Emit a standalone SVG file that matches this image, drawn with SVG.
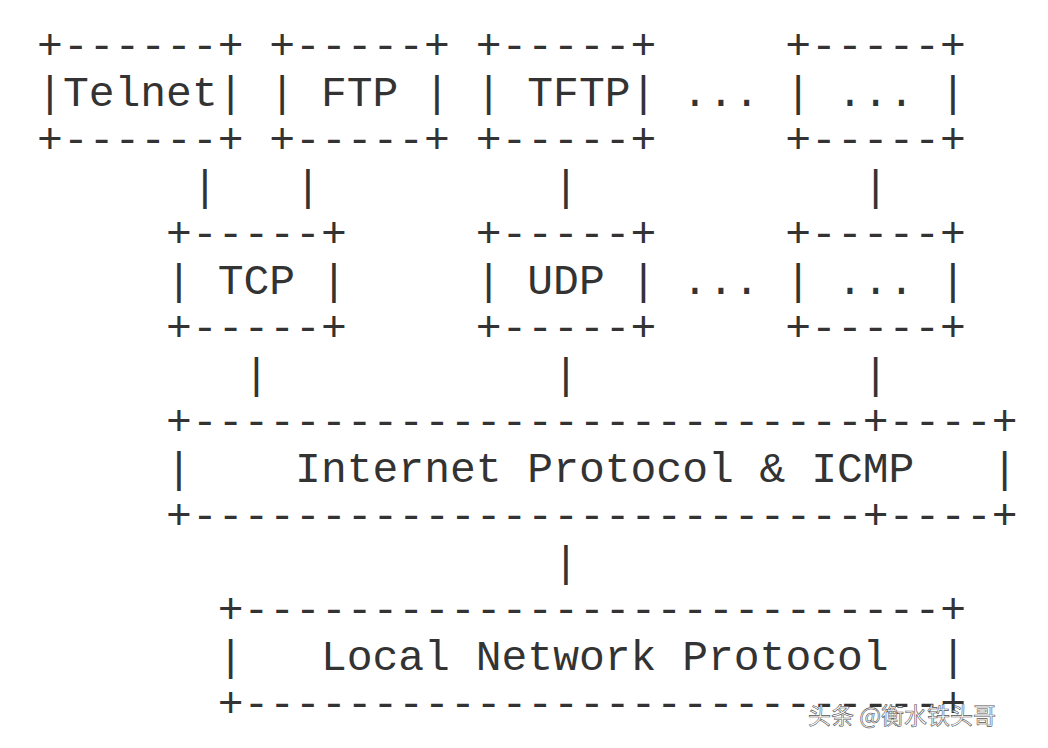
<svg xmlns="http://www.w3.org/2000/svg" width="1048" height="748" viewBox="0 0 1048 748" xml:space="preserve">
<style>
text{font-family:"Liberation Mono","Courier New",monospace;font-size:43px;fill:#333;white-space:pre}
.wm{font-family:"Noto Sans CJK SC","Noto Sans",sans-serif;font-size:23px;fill:#fff;stroke:#555;stroke-width:0.6px}
</style>
<rect width="1048" height="748" fill="#fff"/>
<g transform="translate(5,0)">
<g id="telnet"><text x="32.1" y="59">+------+</text><text x="32.1" y="106">|Telnet|</text><text x="32.1" y="153">+------+</text></g>
<g id="ftp"><text x="264.3" y="59">+-----+</text><text x="264.3" y="106">| FTP |</text><text x="264.3" y="153">+-----+</text></g>
<g id="tftp"><text x="470.7" y="59">+-----+</text><text x="470.7" y="106">| TFTP|</text><text x="470.7" y="153">+-----+</text></g>
<g id="dots1"><text x="677.1" y="106">...</text></g>
<g id="app-other"><text x="780.3" y="59">+-----+</text><text x="780.3" y="106">| ... |</text><text x="780.3" y="153">+-----+</text></g>
<g id="tcp"><text x="161.1" y="247">+-----+</text><text x="161.1" y="294">| TCP |</text><text x="161.1" y="341">+-----+</text></g>
<g id="udp"><text x="470.7" y="247">+-----+</text><text x="470.7" y="294">| UDP |</text><text x="470.7" y="341">+-----+</text></g>
<g id="dots2"><text x="677.1" y="294">...</text></g>
<g id="transport-other"><text x="780.3" y="247">+-----+</text><text x="780.3" y="294">| ... |</text><text x="780.3" y="341">+-----+</text></g>
<g id="ip"><text x="161.1" y="435">+--------------------------+----+</text><text x="161.1" y="482">|    Internet Protocol &amp; ICMP   |</text><text x="161.1" y="529">+--------------------------+----+</text></g>
<g id="local"><text x="212.7" y="623">+---------------------------+</text><text x="212.7" y="670">|   Local Network Protocol  |</text><text x="212.7" y="717">+---------------------------+</text></g>
<g id="connectors">
<text x="186.9" y="200">|</text><text x="290.1" y="200">|</text><text x="548.1" y="200">|</text><text x="857.7" y="200">|</text>
<text x="238.5" y="388">|</text><text x="548.1" y="388">|</text><text x="857.7" y="388">|</text>
<text x="548.1" y="576">|</text>
</g>
</g>
<text class="wm" x="808" y="724">头条 @衡水铁头哥</text>
</svg>
